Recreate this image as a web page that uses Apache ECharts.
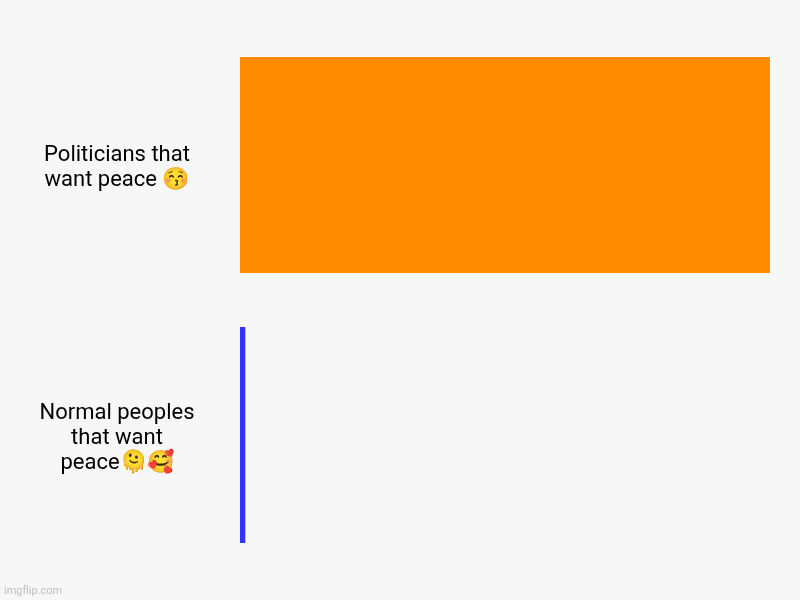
<!DOCTYPE html>
<html>
<head>
<meta charset="utf-8">
<style>html,body{margin:0;padding:0;background:#f7f7f7}#c{width:800px;height:600px}</style>
<script src="https://cdn.jsdelivr.net/npm/echarts@6/dist/echarts.min.js"></script>
</head>
<body>
<div id="c"></div>
<script>
const categories = ["Politicians that\nwant peace 😚", "Normal peoples\nthat want\npeace🫠🥰"];
const values = [100, 1];
const colors = ["#ff8c00", "#3333ff"];
const chart = echarts.init(document.getElementById('c'), null, {renderer:'canvas'});
chart.setOption({
  animation:false,
  backgroundColor:'#f7f7f7',
  grid:{left:240,right:30,top:30,bottom:30,containLabel:false},
  xAxis:{type:'value',min:0,max:100,show:false},
  yAxis:{type:'category',inverse:true,data:categories,
    axisLine:{show:false},axisTick:{show:false},splitLine:{show:false},
    axisLabel:{align:'center',margin:123,color:'#000',fontFamily:'Roboto',fontSize:22,lineHeight:25,
      formatter:function(v){return '{s| }\n'+v.split('\n').map(function(l){return '{t|'+l+'}';}).join('\n');},
      rich:{s:{fontSize:4,lineHeight:6,height:6},t:{fontFamily:'Roboto',fontSize:22,lineHeight:25,color:'#000',align:'center'}}}},
  series:[{type:'bar',barWidth:216,data:values.map((v,i)=>({value:v,itemStyle:{color:colors[i]}}))}],
  graphic:[{type:'text',left:4,top:586,style:{text:'imgflip.com',fontFamily:'Roboto',fontSize:11,fill:'#bdbdbd'}}]
});
</script>
</body>
</html>
